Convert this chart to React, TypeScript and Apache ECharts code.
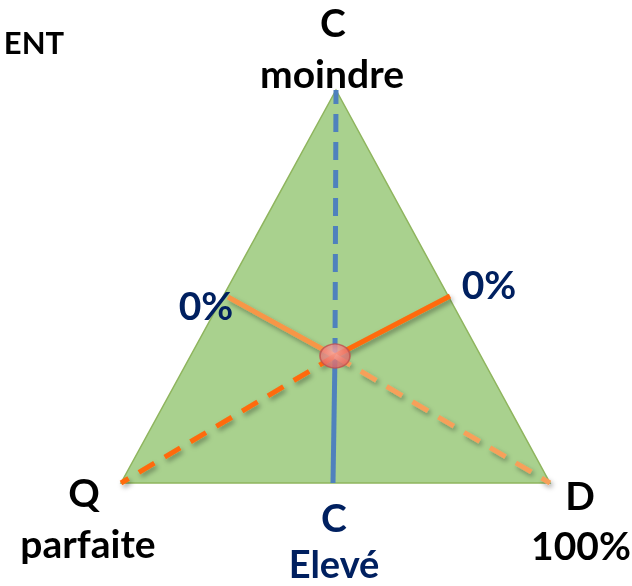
import React, { useEffect, useRef } from "react";
import * as echarts from "echarts";

// Triangle vertices (pixel-like data coordinates): apex, bottom-left, bottom-right
const triangleX = [336, 121, 550];
const triangleY = [90, 483, 483];
// Central point
const centerXY = [335, 356];
// End points of the lines drawn from the centre
const topEnd = [336, 90];
const bottomEnd = [333, 483];
const leftEdgeEnd = [228, 297];
const rightEdgeEnd = [450, 296];
const leftCornerEnd = [121, 483];
const rightCornerEnd = [550, 483];

// Texts
const topLabels = ["C", "moindre"];
const leftLabels = ["Q", "parfaite"];
const rightLabels = ["D", "100%"];
const bottomLabels = ["C", "Elevé"];
const pctLabels = ["0%", "0%"];
const cornerLabel = "ENT";

const FONT = "Lato, 'Open Sans', sans-serif";
const shadow = {
  shadowColor: "rgba(0,0,0,0.35)",
  shadowBlur: 5,
  shadowOffsetX: 2,
  shadowOffsetY: 3,
};

function seg(name: string, a: number[], b: number[], color: string, type: any, width = 5, withShadow = true) {
  return {
    name,
    type: "line",
    data: [a, b],
    symbol: "none",
    silent: true,
    z: 3,
    lineStyle: { color, width, type, cap: "butt", ...(withShadow ? shadow : {}) },
  };
}

export default function App() {
  const ref = useRef<HTMLDivElement>(null);
  useEffect(() => {
    const chart = echarts.init(ref.current!, null, { renderer: "svg" });
    const tri = triangleX.map((x, i) => [x, triangleY[i]]);
    const txt = (text: string, x: number, y: number, size: number, fill: string) => ({
      type: "text",
      x,
      y,
      style: {
        text,
        fill,
        font: `bold ${size}px ${FONT}`,
        textAlign: "center",
        textVerticalAlign: "middle",
      },
      z: 10,
    });
    chart.setOption({
      animation: false,
      grid: { left: 0, right: 0, top: 0, bottom: 0 },
      xAxis: { type: "value", min: 0, max: 632, show: false },
      yAxis: { type: "value", min: 0, max: 586, inverse: true, show: false },
      series: [
        {
          type: "custom",
          z: 1,
          silent: true,
          data: [0],
          renderItem: (params: any, api: any) => ({
            type: "polygon",
            shape: { points: tri.map((p) => api.coord(p)) },
            style: {
              fill: "#a9d18e",
              stroke: "#8fb55e",
              lineWidth: 1.5,
            },
          }),
        },
        seg("top", centerXY, topEnd, "#4f81bd", [18, 10], 5, false),
        seg("bottom", centerXY, bottomEnd, "#4f81bd", "solid", 5, false),
        seg("leftEdge", centerXY, leftEdgeEnd, "#f79646", "solid"),
        seg("rightEdge", centerXY, rightEdgeEnd, "#ff6a0a", "solid"),
        seg("leftCorner", centerXY, leftCornerEnd, "#ff6a0a", [18, 12]),
        seg("rightCorner", centerXY, rightCornerEnd, "#f7a05a", [18, 12]),
        {
          type: "scatter",
          data: [centerXY],
          symbol: "circle",
          symbolSize: [30, 24],
          z: 5,
          silent: true,
          itemStyle: {
            color: {
              type: "radial",
              x: 0.45,
              y: 0.35,
              r: 0.7,
              colorStops: [
                { offset: 0, color: "#f7a9a9" },
                { offset: 1, color: "#e05c5c" },
              ],
            },
            borderColor: "#c0504d",
            borderWidth: 1.5,
          },
        },
      ],
      graphic: [
        txt(cornerLabel, 34, 42, 31, "#000"),
        txt(topLabels[0], 333, 22, 39, "#000"),
        txt(topLabels[1], 332, 73, 39, "#000"),
        txt(leftLabels[0], 84, 492, 39, "#000"),
        txt(leftLabels[1], 88, 543, 39, "#000"),
        txt(rightLabels[0], 580, 495, 39, "#000"),
        txt(rightLabels[1], 581, 545, 39, "#000"),
        txt(bottomLabels[0], 334, 517, 39, "#002060"),
        txt(bottomLabels[1], 334, 563, 38, "#002060"),
        txt(pctLabels[0], 206, 305, 39, "#002060"),
        txt(pctLabels[1], 489, 284, 39, "#002060"),
      ],
    });
    return () => chart.dispose();
  }, []);
  return (
    <div
      ref={ref}
      style={{ position: "fixed", left: 0, top: 0, width: 632, height: 586 }}
    />
  );
}
